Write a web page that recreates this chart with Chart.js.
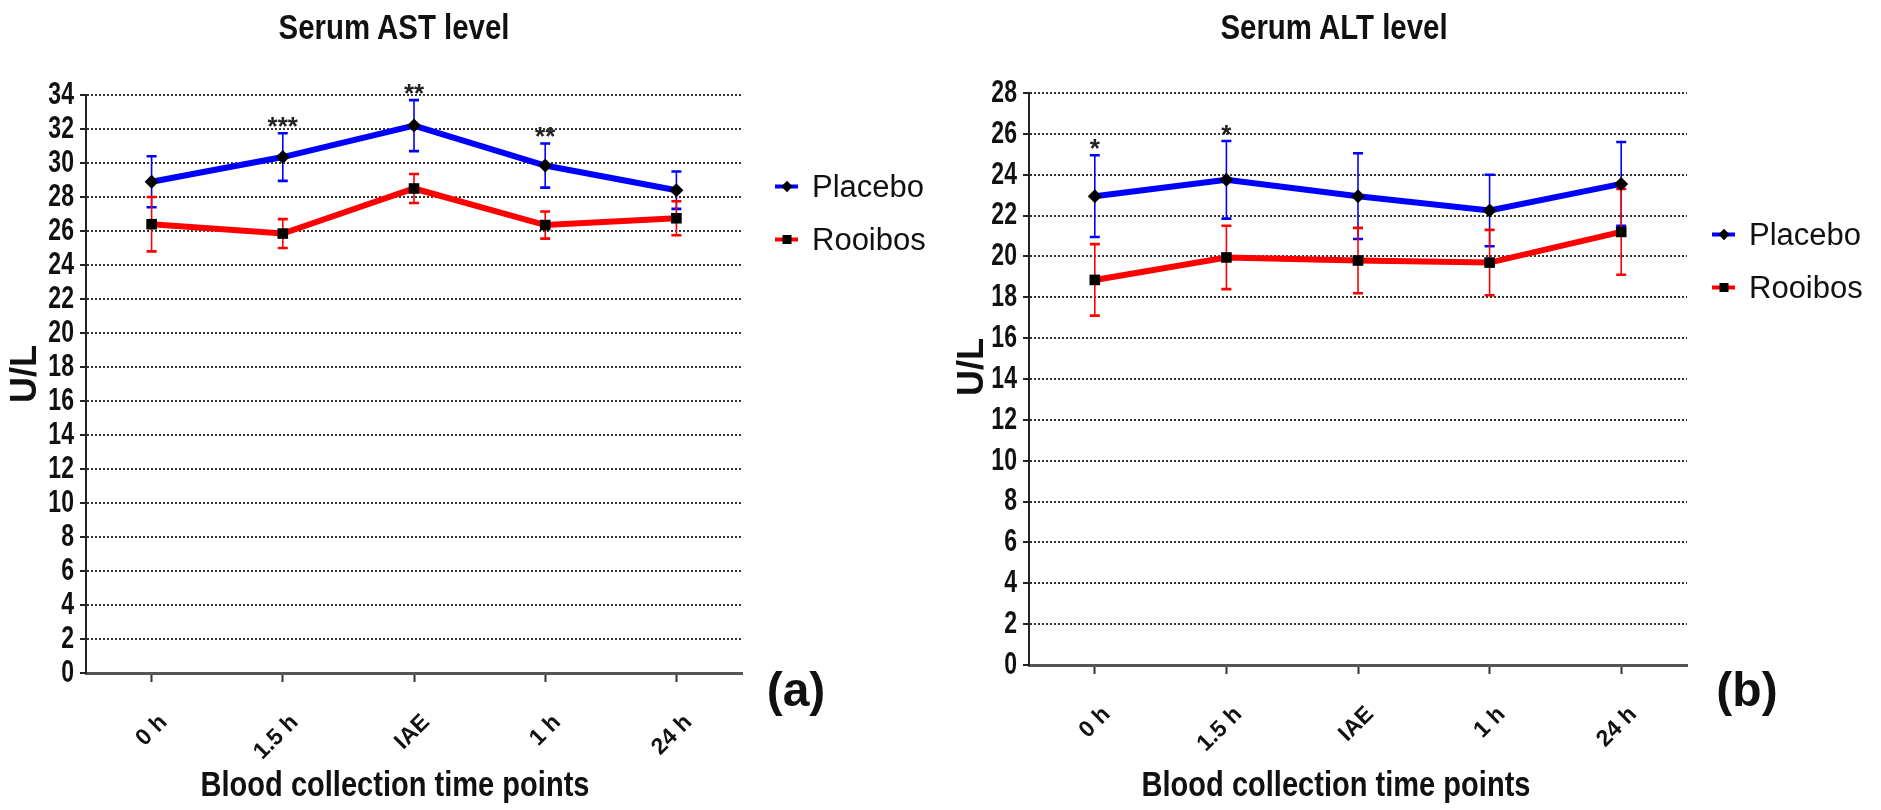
<!DOCTYPE html>
<html><head><meta charset="utf-8">
<script src="https://cdn.jsdelivr.net/npm/chart.js@4.4.1/dist/chart.umd.min.js"></script>
<style>
html,body{margin:0;padding:0;background:#fff;}
body{width:1881px;height:810px;overflow:hidden;position:relative;}
canvas{position:absolute;top:0;}
#c1{left:0;}
#c2{left:940px;}
.txt{position:absolute;color:#111;white-space:nowrap;line-height:1;}
.ttl{font-family:'Liberation Sans',Arial,sans-serif;font-weight:bold;font-size:35px;transform:translate(-50%,-50%) scaleX(0.84);}
.pnl{font-family:'Liberation Sans',Arial,sans-serif;font-weight:bold;font-size:48px;transform:translate(-50%,-50%);}
.leg{position:absolute;display:flex;align-items:center;font-family:'Liberation Sans',Arial,sans-serif;font-size:31px;color:#111;line-height:1;transform:translateY(-50%);}
.sym{position:relative;width:23px;height:4px;margin-right:14px;}
.mk{position:absolute;left:50%;top:50%;width:9px;height:9px;background:#000;transform:translate(-50%,-50%);}
.mk.d{width:8px;height:8px;transform:translate(-50%,-50%) rotate(45deg);}
</style></head>
<body>
<canvas id="c1" width="940" height="810"></canvas>
<canvas id="c2" width="941" height="810"></canvas>
<script>
// ---------- data ----------
const timePoints = ['0 h', '1.5 h', 'IAE', '1 h', '24 h'];
const seriesNames = ['Placebo', 'Rooibos'];

const astPlacebo    = [28.9, 30.35, 32.2, 29.85, 28.4];
const astPlaceboSem = [1.5, 1.4, 1.5, 1.3, 1.1];
const astRooibos    = [26.4, 25.85, 28.5, 26.35, 26.75];
const astRooibosSem = [1.6, 0.85, 0.85, 0.8, 1.0];
const astSig        = ['', '***', '**', '**', ''];
const astMax = 34;

const altPlacebo    = [22.95, 23.75, 22.95, 22.25, 23.55];
const altPlaceboSem = [2.0, 1.9, 2.1, 1.75, 2.05];
const altRooibos    = [18.85, 19.95, 19.8, 19.7, 21.2];
const altRooibosSem = [1.75, 1.55, 1.6, 1.6, 2.1];
const altSig        = ['*', '*', '', '', ''];
const altMax = 28;

const tickStep = 2;
const yTitle = 'U/L';
const xTitle = 'Blood collection time points';

// ---------- styling ----------
const SANS = "'Liberation Sans',Arial,sans-serif";
const BLUE = '#0000ff', RED = '#ff0000';

const errorBarPlugin = {
  id: 'errorBars',
  beforeDatasetsDraw(chart) {
    const ctx = chart.ctx, ys = chart.scales.y;
    chart.data.datasets.forEach((ds, i) => {
      const meta = chart.getDatasetMeta(i);
      ctx.save();
      ctx.strokeStyle = ds.borderColor;
      meta.data.forEach((pt, j) => {
        const v = ds.data[j], e = ds.sem[j];
        const yt = ys.getPixelForValue(v + e), yb = ys.getPixelForValue(v - e);
        ctx.lineWidth = 1.6;
        ctx.beginPath(); ctx.moveTo(pt.x, yt); ctx.lineTo(pt.x, yb); ctx.stroke();
        ctx.lineWidth = 2.6;
        ctx.beginPath();
        ctx.moveTo(pt.x - 5, yt); ctx.lineTo(pt.x + 5, yt);
        ctx.moveTo(pt.x - 5, yb); ctx.lineTo(pt.x + 5, yb);
        ctx.stroke();
      });
      ctx.restore();
    });
  },
  afterDatasetsDraw(chart, args, opts) {
    const sig = opts.sig || [];
    const ctx = chart.ctx, ys = chart.scales.y;
    const ds = chart.data.datasets[0];
    const meta = chart.getDatasetMeta(0);
    ctx.save();
    ctx.fillStyle = '#222';
    ctx.font = 'bold 26px ' + SANS;
    ctx.textAlign = 'center';
    ctx.textBaseline = 'alphabetic';
    sig.forEach((s, j) => {
      if (!s) return;
      const yt = ys.getPixelForValue(ds.data[j] + ds.sem[j]);
      ctx.fillText(s, meta.data[j].x, yt + 2);
    });
    ctx.restore();
  }
};

// narrow-font emulation: horizontally condense scale labels / titles
function condense(chart, geo) {
  const ctx = chart.ctx;
  const ys = chart.scales.y, xs = chart.scales.x;
  const yLab = ys.drawLabels;
  ys.drawLabels = function (area) {
    const px = this.right - 6 - 6;
    ctx.save(); ctx.translate(px, 0); ctx.scale(0.72, 1); ctx.translate(-px, 0);
    yLab.call(this, area); ctx.restore();
  };
  const yTit = ys.drawTitle;
  ys.drawTitle = function () {
    ctx.save(); ctx.translate(0, geo.yTitleShift);
    yTit.call(this); ctx.restore();
  };
  const xTit = xs.drawTitle;
  xs.drawTitle = function () {
    const px = (this.left + this.right) / 2;
    ctx.save(); ctx.translate(geo.xTitleCenter, 0); ctx.scale(0.83, 1); ctx.translate(-px, 0);
    xTit.call(this); ctx.restore();
  };
  chart.draw();
}

function makeChart(id, placebo, placeboSem, rooibos, rooibosSem, sig, yMax, geo) {
  const chart = new Chart(document.getElementById(id), {
    type: 'line',
    data: {
      labels: timePoints,
      datasets: [
        { label: seriesNames[0], data: placebo, sem: placeboSem, borderColor: BLUE, backgroundColor: BLUE,
          borderWidth: 6, tension: 0, pointStyle: 'rectRot', pointRadius: 7, pointBackgroundColor: '#000',
          pointBorderColor: '#000', pointBorderWidth: 0, clip: false },
        { label: seriesNames[1], data: rooibos, sem: rooibosSem, borderColor: RED, backgroundColor: RED,
          borderWidth: 6, tension: 0, pointStyle: 'rect', pointRadius: 7.5, pointBackgroundColor: '#000',
          pointBorderColor: '#000', pointBorderWidth: 0, clip: false }
      ]
    },
    options: {
      responsive: false,
      animation: false,
      events: [],
      layout: { padding: { left: 0, top: geo.top, right: geo.right, bottom: 0 } },
      plugins: {
        legend: { display: false },
        title: { display: false },
        tooltip: { enabled: false },
        errorBars: { sig: sig }
      },
      scales: {
        x: {
          type: 'category',
          offset: true,
          ticks: { autoSkip: false, minRotation: 45, maxRotation: 45, color: '#111',
                   font: { family: SANS, weight: 'bold', size: 23 }, padding: 27, labelOffset: 12 },
          grid: { display: true, drawOnChartArea: false, drawTicks: true, offset: false,
                  tickLength: 9, tickColor: '#333', tickWidth: 2 },
          border: { display: true, color: '#555', width: 3 },
          title: { display: true, text: xTitle, color: '#111', padding: 3,
                   font: { family: SANS, weight: 'bold', size: 35, lineHeight: 1.2 } },
          afterFit(s) { s.height = 810 - geo.bottom; }
        },
        y: {
          min: 0, max: yMax,
          ticks: { stepSize: tickStep, autoSkip: false, color: '#111', padding: 6,
                   font: { family: SANS, weight: 'bold', size: 32 } },
          grid: { color: '#333', lineWidth: 2, drawTicks: true,
                  tickLength: 6, tickColor: '#222', tickWidth: 2, tickBorderDash: [] },
          border: { display: true, color: '#222', width: 2, dash: [2, 2] },
          title: { display: true, text: yTitle, color: '#111', padding: { top: geo.ytPad, bottom: 0 },
                   font: { family: SANS, weight: 'bold', size: 36, lineHeight: 1 } },
          afterFit(s) { s.width = geo.left; }
        }
      }
    },
    plugins: [errorBarPlugin]
  });
  condense(chart, geo);
  return chart;
}

makeChart('c1', astPlacebo, astPlaceboSem, astRooibos, astRooibosSem, astSig, astMax,
  { left: 86, right: 940 - 742, top: 95, bottom: 673, ytPad: 8, xTitleCenter: 395, yTitleShift: -10 });
makeChart('c2', altPlacebo, altPlaceboSem, altRooibos, altRooibosSem, altSig, altMax,
  { left: 89, right: 941 - 747, top: 93, bottom: 665, ytPad: 15, xTitleCenter: 396, yTitleShift: -12 });

// ---------- text overlays ----------
function addText(cls, text, x, y) {
  const d = document.createElement('div');
  d.className = 'txt ' + cls; d.textContent = text;
  d.style.left = x + 'px'; d.style.top = y + 'px';
  document.body.appendChild(d);
}
function addLegend(x, ys) {
  seriesNames.forEach((name, i) => {
    const d = document.createElement('div');
    d.className = 'leg';
    d.style.left = x + 'px'; d.style.top = ys[i] + 'px';
    const s = document.createElement('div');
    s.className = 'sym'; s.style.background = i === 0 ? BLUE : RED;
    const m = document.createElement('div');
    m.className = 'mk' + (i === 0 ? ' d' : '');
    s.appendChild(m); d.appendChild(s);
    d.appendChild(document.createTextNode(name));
    document.body.appendChild(d);
  });
}
addText('ttl', 'Serum AST level', 394, 26);
addText('ttl', 'Serum ALT level', 1334, 26);
addText('pnl', '(a)', 796, 690);
addText('pnl', '(b)', 1747, 690);
addLegend(775, [186, 239]);
addLegend(1712, [234, 287]);
</script>
</body></html>
